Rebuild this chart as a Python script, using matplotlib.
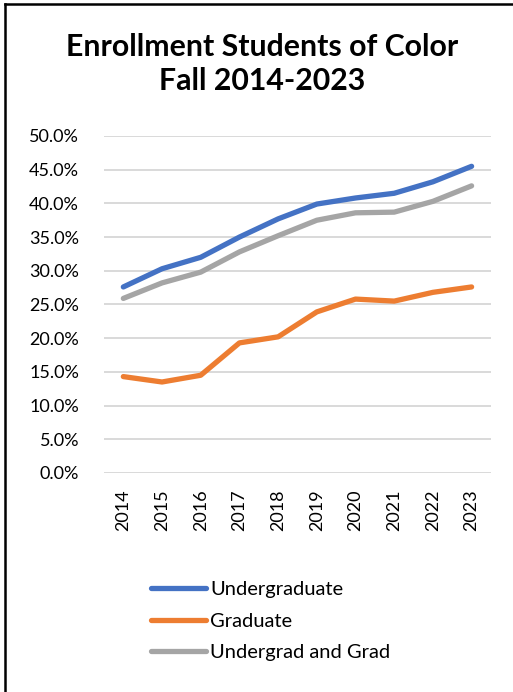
import matplotlib
matplotlib.use("Agg")
import matplotlib.pyplot as plt
from matplotlib.lines import Line2D
from matplotlib.ticker import FuncFormatter

plt.rcParams['font.family'] = ['Lato', 'DejaVu Sans']

years = ['2014', '2015', '2016', '2017', '2018', '2019', '2020', '2021', '2022', '2023']
undergrad = [27.6, 30.3, 32.0, 35.0, 37.7, 39.9, 40.8, 41.5, 43.2, 45.5]
graduate = [14.3, 13.5, 14.5, 19.3, 20.2, 23.9, 25.8, 25.5, 26.8, 27.6]
combined = [25.9, 28.2, 29.8, 32.8, 35.2, 37.5, 38.6, 38.7, 40.3, 42.6]

names = ['Undergraduate', 'Graduate', 'Undergrad and Grad']
colors = ['#4472C4', '#ED7D31', '#A5A5A5']

fig = plt.figure(figsize=(5.13, 6.92), dpi=100)
ax = fig.add_axes([0.2027, 0.3165, 0.7543, 0.487])

x = range(len(years))
for serie, nom, c in zip([undergrad, graduate, combined], names, colors):
    ax.plot(x, [v / 100 for v in serie], color=c, lw=3.8, label=nom,
            solid_capstyle='round', solid_joinstyle='round')

ax.set_xlim(-0.5, len(years) - 0.5)
ax.set_ylim(0, 0.5)
ax.set_yticks([i * 0.05 for i in range(11)])
ax.yaxis.set_major_formatter(FuncFormatter(lambda v, p: f'{v*100:.1f}%'))
ax.set_xticks(list(x))
ax.set_xticklabels(years, rotation=90)
ax.grid(axis='y', color='#D9D9D9', lw=1.4)
ax.set_axisbelow(True)
for s in ax.spines.values():
    s.set_visible(False)
ax.tick_params(axis='both', length=0, labelsize=13, colors='#000000')
ax.tick_params(axis='y', pad=18)
ax.tick_params(axis='x', pad=12)

fig.text(0.51, 0.908, 'Enrollment Students of Color\nFall 2014-2023', ha='center', va='center',
         fontsize=21.8, fontweight='bold', linespacing=1.25)

fig.legend(loc='upper left', bbox_to_anchor=(0.278, 0.172), frameon=False, fontsize=14.5,
           handlelength=2.75, handletextpad=0.2, labelspacing=0.72, borderaxespad=0)

# cadre (haut et gauche)
fig.add_artist(Line2D([0.01, 1.0], [0.9942, 0.9942], transform=fig.transFigure, color='black', lw=1.8))
fig.add_artist(Line2D([0.01, 0.01], [0.0, 0.9942], transform=fig.transFigure, color='black', lw=1.8))

fig.savefig('out.png', dpi=100)
